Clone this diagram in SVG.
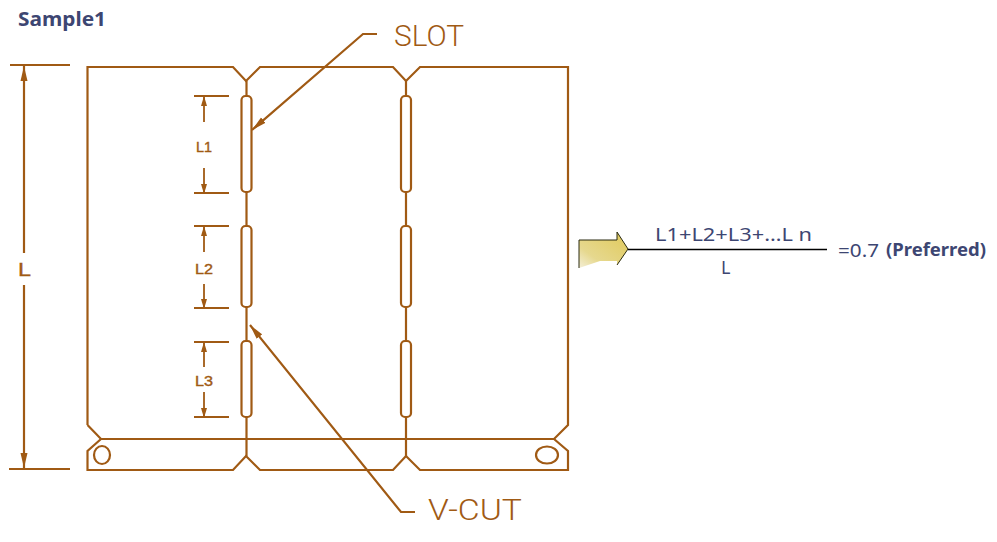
<svg xmlns="http://www.w3.org/2000/svg" width="997" height="542" viewBox="0 0 997 542">
<style>
.l{fill:none;stroke:#a05a14;stroke-width:2.200;stroke-linejoin:miter}
.t{stroke-width:1.800}
.d{fill:#a05a14;font-family:"Liberation Sans",sans-serif;stroke:#a05a14;stroke-width:.4}
.c{font-family:"Roboto","Liberation Sans",sans-serif;font-weight:300;fill:#a05a14;font-size:29px}
.f{fill:#3d4672;font-family:"Noto Sans","Liberation Sans",sans-serif;font-size:18px}
.b{font-weight:bold}
</style>
<defs>
<marker id="a" viewBox="0 0 15 8" refX="15" refY="4" markerWidth="15" markerHeight="8" markerUnits="userSpaceOnUse" orient="auto-start-reverse"><path d="M0 .5L15 4L0 7.500z" fill="#a05a14"/></marker>
<marker id="s" viewBox="0 0 10 7" refX="10" refY="3.500" markerWidth="10" markerHeight="7" markerUnits="userSpaceOnUse" orient="auto-start-reverse"><path d="M0 .5L10 3.500L0 6.500z" fill="#a05a14"/></marker>
<linearGradient id="y" x1="1" y1="0" x2="0" y2="1"><stop offset="0" stop-color="#e0c95a"/><stop offset=".7" stop-color="#e6d88e"/><stop offset="1" stop-color="#f4efd8"/></linearGradient>
</defs>
<rect width="997" height="542" fill="#fff"/>
<text id="title" x="18" y="26" class="f b" style="font-size:19px" textLength="88" lengthAdjust="spacingAndGlyphs">Sample1</text>
<g id="board">
<path class="l" d="M87.500 425V67H233L246 81L260 67H393L406 81L420 67H568V425L554 439H101L87.500 425"/>
<path class="l" d="M101 439L87.500 451V470H233L246 456L260 470H393L406 456L420 470H568V451L554 439"/>
<ellipse class="l" cx="102" cy="455" rx="8" ry="9"/>
<ellipse class="l" cx="547" cy="455" rx="11" ry="8.500"/>
</g>
<g id="slots">
<path class="l" d="M246.500 81V96M246.500 192V226M246.500 307V341M246.500 417V456M406 81V96M406 192V226M406 307V341M406 417V456"/>
<rect class="l" x="241.500" y="96" width="10" height="96" rx="4"/>
<rect class="l" x="241.500" y="226" width="10" height="81" rx="4"/>
<rect class="l" x="241.500" y="341" width="10" height="76" rx="4"/>
<rect class="l" x="401" y="96" width="10" height="96" rx="4"/>
<rect class="l" x="401" y="226" width="10" height="81" rx="4"/>
<rect class="l" x="401" y="341" width="10" height="76" rx="4"/>
</g>
<g id="connectors">
<path class="l" d="M10 65H70M9 469H70"/>
<path class="l" d="M24 253V66" marker-end="url(#a)"/>
<path class="l" d="M24 285V468" marker-end="url(#a)"/>
<path class="l t" d="M194 96H229M194 193H229M194 226H229M194 308H229M194 342H229M194 417H229"/>
<path class="l t" d="M204 122V96" marker-end="url(#s)"/>
<path class="l t" d="M204 168V194" marker-end="url(#s)"/>
<path class="l t" d="M204 252V226" marker-end="url(#s)"/>
<path class="l t" d="M204 284V309" marker-end="url(#s)"/>
<path class="l t" d="M204 367V342" marker-end="url(#s)"/>
<path class="l t" d="M204 392V418" marker-end="url(#s)"/>
<path class="l" d="M377 34H363L252 130" marker-end="url(#a)"/>
<path class="l" d="M415 512H401L250 325" marker-end="url(#a)"/>
</g>
<g id="labels">
<text class="d" x="18" y="276" font-size="19" textLength="13" lengthAdjust="spacingAndGlyphs">L</text>
<text class="d" x="196" y="152" font-size="15" textLength="16" lengthAdjust="spacingAndGlyphs">L1</text>
<text class="d" x="195" y="274" font-size="15" textLength="18" lengthAdjust="spacingAndGlyphs">L2</text>
<text class="d" x="195" y="386" font-size="15" textLength="18" lengthAdjust="spacingAndGlyphs">L3</text>
<text class="c" x="394" y="46" textLength="70" lengthAdjust="spacingAndGlyphs">SLOT</text>
<text class="c" x="428" y="520" textLength="94" lengthAdjust="spacingAndGlyphs">V-CUT</text>
</g>
<g id="formula">
<path d="M579 240H617V232L628 249L617 265V261H600L579 268z" fill="url(#y)"/>
<path d="M579 268V240H617V232L628 249L617 265" fill="none" stroke="#2a2a10" stroke-width="1"/>
<path d="M628 249.500H827" stroke="#000" stroke-width="1.300"/>
<text class="f" x="655" y="241" textLength="157" lengthAdjust="spacingAndGlyphs">L1+L2+L3+…L n</text>
<text class="f" x="721" y="274">L</text>
<text class="f" x="838" y="257" textLength="41" lengthAdjust="spacingAndGlyphs">=0.7</text>
<text class="f b" x="886" y="256" textLength="100" lengthAdjust="spacingAndGlyphs">(Preferred)</text>
</g>
</svg>
